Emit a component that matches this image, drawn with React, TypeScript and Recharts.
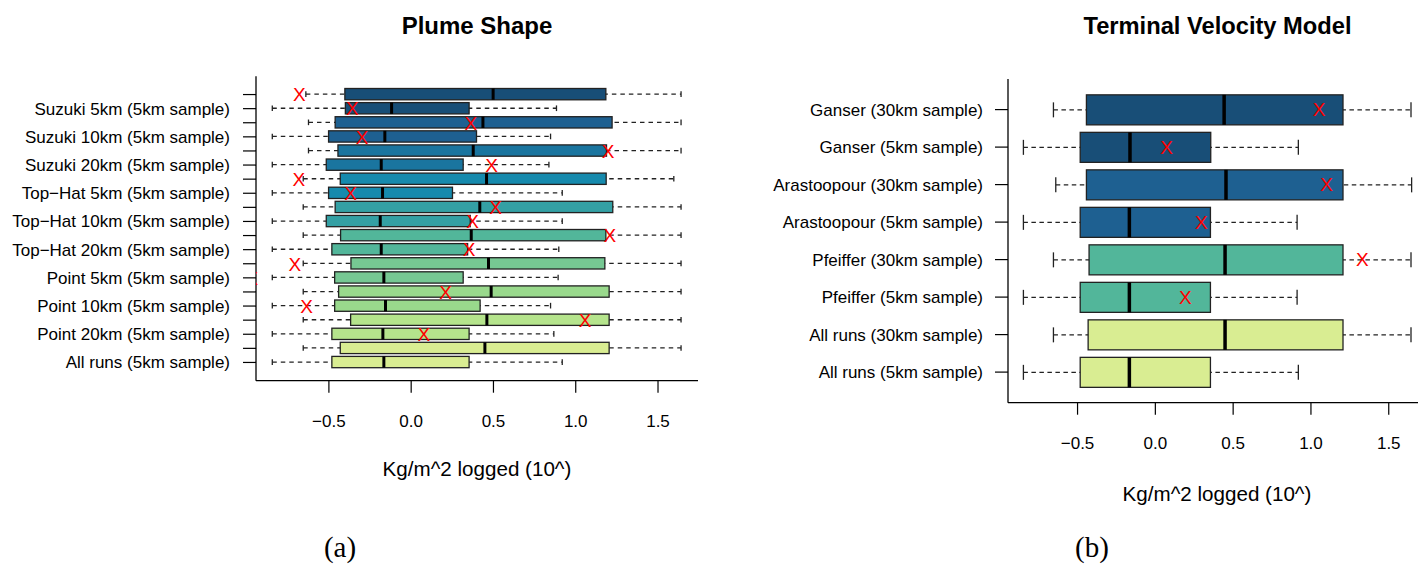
import React from 'react';
import { ComposedChart, Bar, Scatter, XAxis, YAxis } from 'recharts';

const FONT = "'Liberation Sans', Arial, Helvetica, sans-serif";

// Plume shape runs, listed top to bottom as drawn
const plumeGroups = [
  'Suzuki 5km (30km sample)', 'Suzuki 5km (5km sample)',
  'Suzuki 10km (30km sample)', 'Suzuki 10km (5km sample)',
  'Suzuki 20km (30km sample)', 'Suzuki 20km (5km sample)',
  'Top\u2212Hat 5km (30km sample)', 'Top\u2212Hat 5km (5km sample)',
  'Top\u2212Hat 10km (30km sample)', 'Top\u2212Hat 10km (5km sample)',
  'Top\u2212Hat 20km (30km sample)', 'Top\u2212Hat 20km (5km sample)',
  'Point 5km (30km sample)', 'Point 5km (5km sample)',
  'Point 10km (30km sample)', 'Point 10km (5km sample)',
  'Point 20km (30km sample)', 'Point 20km (5km sample)',
  'All runs (30km sample)', 'All runs (5km sample)',
];
const plumeLow = [-0.64, -0.844, -0.624, -0.844, -0.624, -0.844, -0.656, -0.844, -0.656, -0.844, -0.656, -0.844, -0.656, -0.844, -0.656, -0.844, -0.656, -0.844, -0.656, -0.844];
const plumeQ1 = [-0.403, -0.4, -0.462, -0.502, -0.445, -0.516, -0.431, -0.502, -0.462, -0.516, -0.429, -0.482, -0.366, -0.465, -0.441, -0.465, -0.368, -0.482, -0.431, -0.482];
const plumeMedian = [0.498, -0.119, 0.436, -0.16, 0.377, -0.182, 0.458, -0.174, 0.417, -0.188, 0.365, -0.182, 0.47, -0.166, 0.486, -0.156, 0.46, -0.172, 0.448, -0.166];
const plumeQ3 = [1.183, 0.352, 1.221, 0.397, 1.187, 0.316, 1.185, 0.251, 1.225, 0.359, 1.183, 0.343, 1.177, 0.316, 1.203, 0.419, 1.203, 0.352, 1.203, 0.352];
const plumeHigh = [1.64, 0.883, 1.64, 0.847, 1.64, 0.837, 1.596, 0.918, 1.64, 0.918, 1.64, 0.897, 1.64, 0.893, 1.64, 0.847, 1.64, 0.867, 1.64, 0.918];
const plumeMark = [-0.68, -0.358, 0.363, -0.298, 1.197, 0.488, -0.682, -0.368, 0.513, 0.373, 1.207, 0.352, -0.707, -0.968, 0.209, -0.636, 1.057, 0.077, null, null];

// Terminal velocity model runs, top to bottom
const velocityGroups = [
  'Ganser (30km sample)', 'Ganser (5km sample)',
  'Arastoopour (30km sample)', 'Arastoopour (5km sample)',
  'Pfeiffer (30km sample)', 'Pfeiffer (5km sample)',
  'All runs (30km sample)', 'All runs (5km sample)',
];
const velocityLow = [-0.655, -0.848, -0.64, -0.848, -0.655, -0.848, -0.655, -0.848];
const velocityQ1 = [-0.443, -0.483, -0.443, -0.483, -0.426, -0.483, -0.432, -0.483];
const velocityMedian = [0.442, -0.163, 0.454, -0.167, 0.448, -0.167, 0.448, -0.167];
const velocityQ3 = [1.206, 0.356, 1.206, 0.354, 1.206, 0.354, 1.206, 0.354];
const velocityHigh = [1.643, 0.919, 1.647, 0.911, 1.643, 0.911, 1.643, 0.919];
const velocityMark = [1.052, 0.073, 1.101, 0.296, 1.33, 0.193, null, null];

const xTicks = [-0.5, 0, 0.5, 1, 1.5];

const plumePalette = [
  '#184e77', '#184e77', '#1e6091', '#1e6091', '#1a759f', '#1a759f', '#168aad', '#168aad', '#34a0a4', '#34a0a4',
  '#52b69a', '#52b69a', '#76c893', '#76c893', '#99d98c', '#99d98c', '#b5e48c', '#b5e48c', '#d9ed92', '#d9ed92',
];
const velocityPalette = ['#184e77', '#184e77', '#1e6091', '#1e6091', '#52b69a', '#52b69a', '#d9ed92', '#d9ed92'];

type Row = { name: string; lo: number; q1: number; med: number; q3: number; hi: number; mark: number | null };

const buildRows = (
  names: string[], lo: number[], q1: number[], med: number[], q3: number[], hi: number[], mark: (number | null)[],
): Row[] => names.map((name, i) => ({ name, lo: lo[i], q1: q1[i], med: med[i], q3: q3[i], hi: hi[i], mark: mark[i] }));

const plumeRows = buildRows(plumeGroups, plumeLow, plumeQ1, plumeMedian, plumeQ3, plumeHigh, plumeMark);
const velocityRows = buildRows(velocityGroups, velocityLow, velocityQ1, velocityMedian, velocityQ3, velocityHigh, velocityMark);

const fmtTick = (v: number) => v.toFixed(1).replace('-', '\u2212');

interface PanelProps {
  rows: Row[];
  palette: string[];
  left: number;
  width: number;
  margin: { top: number; right: number; bottom: number; left: number };
  yAxisWidth: number;
  domain: [number, number];
  boxH: number;
  pad: number;
  dash: string;
  medianWidth: number;
  yTickMargin: number;
  labelOffset: number;
  labelX?: number;
  labelFilter: (i: number) => boolean;
  rightFrame: boolean;
}

const BoxPanel: React.FC<PanelProps> = (p) => {
  const { rows, palette, boxH, dash } = p;

  // dashed whisker from low to high with end staples; the box is drawn over its middle
  const whisker = (s: any) => {
    const cy = s.y + s.height / 2;
    const cap = boxH / 4;
    const x2 = s.x + s.width;
    return (
      <g>
        <line x1={s.x} x2={x2} y1={cy} y2={cy} stroke="#222" strokeWidth={1.3} strokeDasharray={dash} />
        <line x1={s.x} x2={s.x} y1={cy - cap} y2={cy + cap} stroke="#222" strokeWidth={1.3} />
        <line x1={x2} x2={x2} y1={cy - cap} y2={cy + cap} stroke="#222" strokeWidth={1.3} />
      </g>
    );
  };

  const box = (s: any) => (
    <rect x={s.x} y={s.y} width={s.width} height={s.height} fill={palette[s.index]} stroke="#222" strokeWidth={1.3} />
  );

  const median = (s: any) => {
    const x = s.x + s.width;
    return <line x1={x} x2={x} y1={s.y} y2={s.y + s.height} stroke="#000" strokeWidth={p.medianWidth} />;
  };

  const cross = (s: any) => {
    if (s.cx == null || s.cy == null || s.payload?.mark == null) return <g />;
    return (
      <text x={s.cx} y={s.cy} dy="0.36em" textAnchor="middle" fill="#ff0000" fontSize={19} fontFamily={FONT}>
        X
      </text>
    );
  };

  const axisStroke = { stroke: '#000', strokeWidth: 1.3 };

  return (
    <div style={{ position: 'absolute', left: p.left, top: 0, width: p.width, height: 565 }}>
      <ComposedChart
        width={p.width}
        height={565}
        data={rows}
        layout="vertical"
        margin={p.margin}
        barSize={boxH}
        barGap={-boxH}
      >
        <XAxis
          type="number"
          domain={p.domain}
          allowDataOverflow
          ticks={xTicks}
          interval={0}
          tickFormatter={fmtTick}
          height={60}
          tickSize={12}
          tickMargin={22}
          axisLine={axisStroke}
          tickLine={{ stroke: '#000', strokeWidth: 1.2 }}
          tick={{ fill: '#000', fontSize: 17, fontFamily: FONT }}
        />
        <XAxis
          xAxisId="top"
          orientation="top"
          type="number"
          domain={p.domain}
          allowDataOverflow
          height={0}
          tick={false}
          tickLine={false}
          axisLine={axisStroke}
        />
        <YAxis
          type="category"
          dataKey="name"
          allowDuplicatedCategory={false}
          width={p.yAxisWidth}
          interval={0}
          padding={{ top: p.pad, bottom: p.pad }}
          tickSize={13}
          tickMargin={p.yTickMargin}
          tickFormatter={(v: string, i: number) => (p.labelFilter(i) ? v : '')}
          axisLine={axisStroke}
          tickLine={{ stroke: '#000', strokeWidth: 1.2 }}
          tick={{ fill: '#000', fontSize: 17, fontFamily: FONT }}
        />
        {p.rightFrame && (
          <YAxis
            yAxisId="right"
            orientation="right"
            type="number"
            domain={[0, 1]}
            width={0}
            tick={false}
            tickLine={false}
            axisLine={axisStroke}
          />
        )}
        <Bar dataKey={(d: Row) => [d.lo, d.hi]} shape={whisker} isAnimationActive={false} />
        <Bar dataKey={(d: Row) => [d.q1, d.q3]} shape={box} isAnimationActive={false} />
        <Bar dataKey={(d: Row) => [d.q1, d.med]} shape={median} isAnimationActive={false} />
        <Scatter dataKey="mark" shape={cross} isAnimationActive={false} />
      </ComposedChart>
    </div>
  );
};

const serif = "'Liberation Serif', 'DejaVu Serif', serif";

export default function App() {
  return (
    <div
      style={{
        position: 'fixed',
        left: 0,
        top: 0,
        width: 1418,
        height: 565,
        overflow: 'hidden',
        background: '#fff',
        fontFamily: FONT,
      }}
    >
      <BoxPanel
        rows={plumeRows}
        palette={plumePalette}
        left={0}
        width={720}
        margin={{ top: 76.3, right: 22, bottom: 124.3, left: 0 }}
        yAxisWidth={256}
        domain={[-0.943, 1.743]}
        boxH={11.3}
        pad={11.2}
        dash="4.5 4"
        medianWidth={3}
        yTickMargin={13}
        labelOffset={21}
        labelFilter={(i) => i % 2 === 1}
        rightFrame
      />
      {/* the right-hand frame runs past the page edge, so the axis stops at 1.688 */}
      <BoxPanel
        rows={velocityRows}
        palette={velocityPalette}
        left={760}
        width={658}
        margin={{ top: 79, right: 0, bottom: 102.3, left: 0 }}
        yAxisWidth={248}
        domain={[-0.947, 1.688]}
        boxH={30}
        pad={11.85}
        dash="4.5 3.5"
        medianWidth={3.5}
        yTickMargin={12}
        labelOffset={24.3}
        labelFilter={() => true}
        rightFrame={false}
      />
      <svg width={1418} height={565} style={{ position: 'absolute', left: 0, top: 0, pointerEvents: 'none' }}>
        <g fontFamily={FONT} fill="#000">
          <text x={477} y={34.3} textAnchor="middle" fontSize={24} fontWeight="bold">
            Plume Shape
          </text>
          <text x={1217.5} y={34.3} textAnchor="middle" fontSize={23.7} fontWeight="bold">
            Terminal Velocity Model
          </text>
          <text x={477} y={476} textAnchor="middle" fontSize={20.6}>
            Kg/m^2 logged (10^)
          </text>
          <text x={1217} y={501} textAnchor="middle" fontSize={20.6}>
            Kg/m^2 logged (10^)
          </text>
        </g>
        <text x={340} y={557} textAnchor="middle" fontSize={29} fontFamily={serif} fill="#000">
          (a)
        </text>
        <text x={1092} y={557} textAnchor="middle" fontSize={29} fontFamily={serif} fill="#000">
          (b)
        </text>
      </svg>
    </div>
  );
}
